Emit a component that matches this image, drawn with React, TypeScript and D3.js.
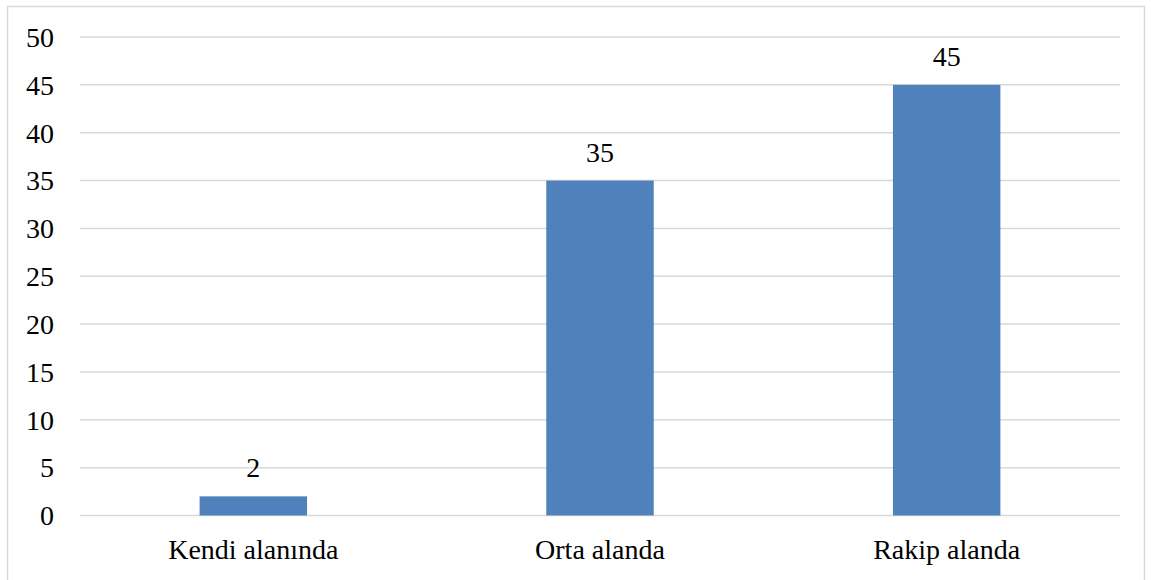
import * as d3 from 'd3';
import React, { FC } from 'react';

const categories = ['Kendi alanında', 'Orta alanda', 'Rakip alanda'];
const values = [2, 35, 45];
const yTicks = [0, 5, 10, 15, 20, 25, 30, 35, 40, 45, 50];

const App: FC = () => {
	const width = 1151;
	const height = 580;
	const margin = { top: 37, right: 31, bottom: 64.5, left: 80 };
	const textStyle = {
		fontFamily: "'Liberation Serif', Tinos, 'Times New Roman', Times, 'DejaVu Serif', serif",
		fontSize: '28px',
	};

	const x = d3
		.scaleBand()
		.domain(categories)
		.range([margin.left, width - margin.right])
		.paddingInner(0.69)
		.paddingOuter(0.345);

	const y = d3
		.scaleLinear()
		.domain([0, 50])
		.range([height - margin.bottom, margin.top]);

	return (
		<svg
			width={width}
			height={height}
			style={{ position: 'absolute', left: 0, top: 0, background: '#fff' }}
		>
			{/* outer chart frame */}
			<rect x={7.5} y={6.5} width={1137} height={590} fill="#fff" stroke="#d9d9d9" strokeWidth={1.5} />

			{/* grid lines */}
			<g>
				{yTicks.map(t => (
					<line
						key={t}
						x1={margin.left}
						x2={width - margin.right}
						y1={y(t)}
						y2={y(t)}
						stroke="#d9d9d9"
						strokeWidth={1.5}
					/>
				))}
			</g>

			{/* y labels */}
			<g style={textStyle} fill="#000" textAnchor="end">
				{yTicks.map(t => (
					<text key={t} x={54} y={y(t)} dy="0.35em">
						{t}
					</text>
				))}
			</g>

			{/* bars */}
			<g>
				{categories.map((c, i) => (
					<rect
						key={c}
						x={x(c)}
						y={y(values[i])}
						width={x.bandwidth()}
						height={y(0) - y(values[i])}
						fill="#4f81bd"
					/>
				))}
			</g>

			{/* value labels */}
			<g style={textStyle} fill="#000" textAnchor="middle">
				{categories.map((c, i) => (
					<text key={c} x={(x(c) as number) + x.bandwidth() / 2} y={y(values[i]) - 19}>
						{values[i]}
					</text>
				))}
			</g>

			{/* category labels */}
			<g style={textStyle} fill="#000" textAnchor="middle">
				{categories.map(c => (
					<text key={c} x={(x(c) as number) + x.bandwidth() / 2} y={y(0) + 43}>
						{c}
					</text>
				))}
			</g>
		</svg>
	);
};

export default App;
